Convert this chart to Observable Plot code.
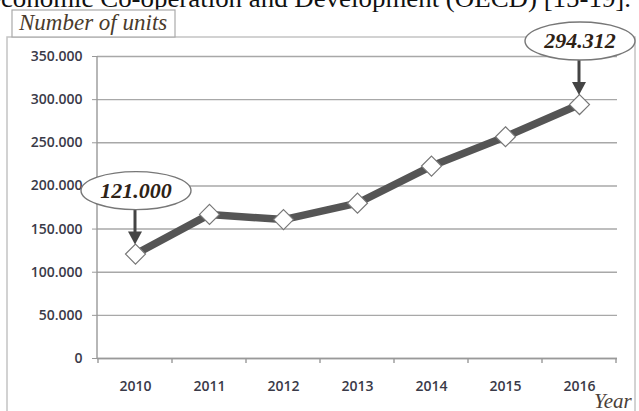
<!DOCTYPE html>
<html>
<head>
<meta charset="utf-8">
<script src="https://cdn.jsdelivr.net/npm/d3@7"></script>
<script src="https://cdn.jsdelivr.net/npm/@observablehq/plot@0.6"></script>
<style>
  html, body { margin: 0; padding: 0; background: white; }
  #chart { position: relative; width: 639px; height: 411px; overflow: hidden; }
</style>
</head>
<body>
<div id="chart"></div>
<script>
// ---- data ----
const years = ["2010", "2011", "2012", "2013", "2014", "2015", "2016"];
const units = [121000, 167000, 161000, 180000, 223000, 257000, 294312];
const yTicks = [0, 50000, 100000, 150000, 200000, 250000, 300000, 350000];
const calloutYears = ["2010", "2016"];
const calloutLabels = ["121.000", "294.312"];
const yTitle = "Number of units";
const xTitle = "Year";
const paperText = "economic Co-operation and Development (OECD) [15-19].";

const data = years.map((year, i) => ({year, value: units[i]}));
const fmt = v => d3.format(",")(v).replace(/,/g, ".");

const plot = Plot.plot({
  width: 639,
  height: 411,
  marginTop: 56,
  marginBottom: 53,
  marginLeft: 97,
  marginRight: 22,
  style: {background: "transparent", overflow: "hidden"},
  x: {type: "point", domain: years, padding: 0.5, label: null},
  y: {domain: [0, 350000], label: null},
  marks: [
    Plot.gridY(yTicks, {stroke: "#a8a8a8", strokeOpacity: 1, strokeWidth: 1.4}),
    Plot.axisY(yTicks, {tickSize: 5, tickPadding: 10, tickFormat: fmt, fontSize: 14,
      fontWeight: 600, fontFamily: "Open Sans", fill: "#3a3a48", stroke: "#999", label: null}),
    Plot.axisX({tickSize: 0, tickPadding: 23, fontSize: 14, fontWeight: 600,
      fontFamily: "Open Sans", fill: "#3a3a48", label: null}),
    Plot.ruleY([0], {stroke: "#999", strokeWidth: 1.4}),
    Plot.line(data, {x: "year", y: "value", stroke: "#555", strokeWidth: 7.5}),
    Plot.dot(data, {x: "year", y: "value", symbol: "diamond2", r: 9, fill: "white",
      stroke: "#777", strokeWidth: 1.2})
  ]
});

document.getElementById("chart").appendChild(plot);

const svg = d3.select(plot);
const xs = plot.scale("x"), ys = plot.scale("y");
const step = xs.apply(years[1]) - xs.apply(years[0]);
const x0 = xs.range[0];
const yBase = ys.apply(0), yTop = ys.apply(350000);

// outer frame (drawn beneath everything)
const deco = svg.insert("g", ":first-child");
deco.append("rect").attr("x", 7).attr("y", 37).attr("width", 628).attr("height", 420)
  .attr("fill", "none").attr("stroke", "#c4c4c4").attr("stroke-width", 1.5);

// y axis line
svg.append("line").attr("x1", x0).attr("x2", x0).attr("y1", yTop).attr("y2", yBase)
  .attr("stroke", "#999").attr("stroke-width", 1.4);

// x category boundary ticks
const edges = years.map(y => xs.apply(y) - step / 2).concat([xs.apply(years[years.length - 1]) + step / 2]);
svg.append("g").selectAll("line").data(edges).join("line")
  .attr("x1", d => d).attr("x2", d => d).attr("y1", yBase).attr("y2", yBase + 5)
  .attr("stroke", "#999").attr("stroke-width", 1.4);

// paper text above (cropped by the top and left edges)
svg.append("text").attr("x", -11).attr("y", 6.5).attr("text-anchor", "start")
  .attr("textLength", 642).attr("lengthAdjust", "spacingAndGlyphs")
  .attr("font-family", "Liberation Serif").attr("font-size", 26).attr("fill", "#111")
  .text(paperText);

// y title box
const tb = svg.append("g");
tb.append("rect").attr("x", 12).attr("y", 10).attr("width", 163).attr("height", 27)
  .attr("fill", "white").attr("stroke", "#aaa").attr("stroke-width", 1.2);
tb.append("text").attr("x", 19).attr("y", 30).attr("text-anchor", "start")
  .attr("font-family", "Liberation Serif").attr("font-style", "italic").attr("font-size", 23)
  .attr("fill", "#4a3b2c").text(yTitle);

// x title
svg.append("text").attr("x", 594).attr("y", 408).attr("text-anchor", "start")
  .attr("font-family", "Liberation Serif").attr("font-style", "italic").attr("font-size", 21)
  .attr("fill", "#4a4038").text(xTitle);

// callouts
calloutYears.forEach((yr, i) => {
  const d = data.find(e => e.year === yr);
  const cx = xs.apply(yr), cy = ys.apply(d.value);
  const ey = cy - 63;
  const g = svg.append("g");
  g.append("line").attr("x1", cx).attr("x2", cx).attr("y1", ey + 19).attr("y2", cy - 20)
    .attr("stroke", "#444").attr("stroke-width", 3);
  g.append("path")
    .attr("d", `M${cx - 7},${cy - 22} L${cx + 7},${cy - 22} L${cx},${cy - 9} Z`)
    .attr("fill", "#444");
  g.append("ellipse").attr("cx", cx + 1).attr("cy", ey).attr("rx", 55).attr("ry", 19)
    .attr("fill", "white").attr("stroke", "#777").attr("stroke-width", 1.4);
  g.append("text").attr("x", cx + 1).attr("y", ey + 7).attr("text-anchor", "middle")
    .attr("font-family", "Liberation Serif").attr("font-style", "italic").attr("font-weight", "bold")
    .attr("font-size", 22).attr("fill", "#2e2216").text(calloutLabels[i]);
});
</script>
</body>
</html>
